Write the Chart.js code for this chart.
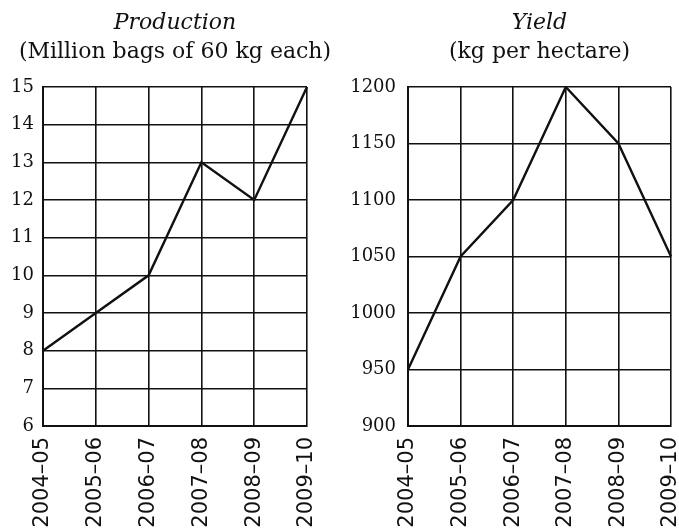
<!DOCTYPE html>
<html><head><meta charset="utf-8">
<script src="https://cdn.jsdelivr.net/npm/chart.js@4"></script>
<style>
html,body{margin:0;padding:0;background:#fff;overflow:hidden;width:679px;height:531px;position:relative}
canvas{position:absolute;top:0}
#c1{left:0}
#c2{left:340px}
</style></head>
<body>
<canvas id="c1" width="340" height="531" style="width:340px;height:531px"></canvas>
<canvas id="c2" width="364" height="531" style="width:364px;height:531px"></canvas>
<script>
const years = ['2004–05','2005–06','2006–07','2007–08','2008–09','2009–10'];
const production = [8, 9, 10, 13, 12, 15];
const yieldKg = [950, 1050, 1100, 1200, 1150, 1050];
const productionTicks = [6, 7, 8, 9, 10, 11, 12, 13, 14, 15];
const yieldTicks = [900, 950, 1000, 1050, 1100, 1150, 1200];

const INK = '#111';

// Draws the two-line heading centred over the plot area (text is not squeezed to plot width)
const headingPlugin = {
  id: 'heading',
  afterDraw(chart, args, opts) {
    const ctx = chart.ctx;
    const a = chart.chartArea;
    const cx = (a.left + a.right) / 2;
    ctx.save();
    ctx.fillStyle = INK;
    ctx.textAlign = 'center';
    ctx.textBaseline = 'alphabetic';
    ctx.font = 'italic 22px "DejaVu Serif"';
    ctx.fillText(opts.title, cx, 29);
    ctx.font = '22px "DejaVu Serif"';
    ctx.fillText(opts.subtitle, cx, 58);
    ctx.restore();
  }
};

function makeChart(id, title, subtitle, values, ticks, yWidth, yPad, padRight) {
  const step = ticks[1] - ticks[0];
  return new Chart(document.getElementById(id), {
    type: 'line',
    data: {
      labels: years,
      datasets: [{
        data: values,
        borderColor: INK,
        borderWidth: 2.4,
        pointRadius: 0,
        tension: 0,
        fill: false
      }]
    },
    plugins: [headingPlugin],
    options: {
      responsive: false,
      animation: false,
      devicePixelRatio: 1,
      layout: { padding: { top: 87, left: 0, right: padRight, bottom: 0 } },
      plugins: {
        legend: { display: false },
        tooltip: { enabled: false },
        heading: { title: title, subtitle: subtitle }
      },
      scales: {
        x: {
          type: 'category',
          offset: false,
          grid: { color: INK, lineWidth: 1.6, drawTicks: false },
          border: { color: INK, width: 2 },
          ticks: {
            minRotation: 90, maxRotation: 90, padding: 11, color: INK,
            font: { family: 'DejaVu Sans', size: 21 }
          },
          afterFit(s) { s.height = 105; s.paddingLeft = 0; s.paddingRight = 0; }
        },
        y: {
          min: ticks[0], max: ticks[ticks.length - 1],
          grid: { color: INK, lineWidth: 1.6, drawTicks: false },
          border: { color: INK, width: 2 },
          ticks: {
            stepSize: step, padding: yPad, color: INK,
            font: { family: 'DejaVu Serif', size: 18 },
            callback: (v) => String(v)
          },
          afterFit(s) { s.width = yWidth; s.paddingTop = 0; s.paddingBottom = 0; }
        }
      }
    }
  });
}

makeChart('c1', 'Production', '(Million bags of 60 kg each)', production, productionTicks, 43, 9, 33);
makeChart('c2', 'Yield', '(kg per hectare)', yieldKg, yieldTicks, 68, 12, 33);
</script>
</body></html>
